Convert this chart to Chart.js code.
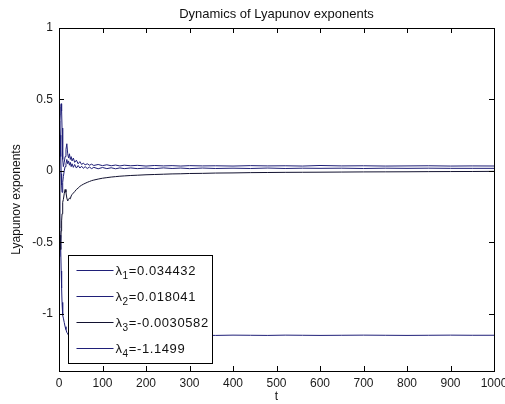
<!DOCTYPE html>
<html>
<head>
<meta charset="utf-8">
<script src="https://cdn.jsdelivr.net/npm/chart.js@4/dist/chart.umd.min.js"></script>
<style>
  html, body { margin: 0; padding: 0; background: #fff; }
  #wrap { position: relative; width: 505px; height: 404px; }
</style>
</head>
<body>
<div id="wrap"><canvas id="myChart"></canvas></div>
<script>
// time steps (denser at the start where the exponents move fast)
const t = [0, 1, 2, 3, 4, 5, 6, 7, 8, 9, 10,
    12, 14, 16, 18, 20, 22, 24, 26, 28, 30,
    33, 36, 40, 44, 48, 52, 56, 60, 65, 70, 75, 80,
    90, 100, 110, 120, 130, 140, 150, 165, 180,
    200, 220, 240, 260, 280, 300, 330, 360,
    400, 440, 480, 520, 560, 600,
    650, 700, 750, 800, 850, 900, 950, 1000];

const lambda1 = [0, 0.15, 0.3, 0.4, 0.45, 0.47, 0.42, 0.3, 0.18, 0.08, 0.03,
    0.06, 0.1, 0.15, 0.19, 0.12, 0.09, 0.12, 0.08, 0.1, 0.07,
    0.09, 0.06, 0.075, 0.05, 0.065, 0.045, 0.055, 0.042, 0.05, 0.04, 0.047, 0.038,
    0.045, 0.037, 0.043, 0.036, 0.041, 0.035, 0.04, 0.036, 0.039,
    0.034, 0.038, 0.035, 0.037, 0.034, 0.037, 0.035, 0.036,
    0.034, 0.037, 0.035, 0.036, 0.034, 0.038,
    0.035, 0.036, 0.034, 0.035, 0.036, 0.034, 0.035, 0.0344];

const lambda2 = [0, 0.2, 0.35, 0.25, 0.1, -0.02, -0.1, -0.15, -0.12, -0.08, -0.04,
    0, 0.03, 0.05, 0.08, 0.05, 0.07, 0.04, 0.06, 0.03, 0.05,
    0.025, 0.045, 0.02, 0.038, 0.02, 0.033, 0.018, 0.03, 0.017, 0.027, 0.016, 0.025,
    0.015, 0.024, 0.016, 0.022, 0.015, 0.021, 0.016, 0.021, 0.016,
    0.02, 0.016, 0.021, 0.017, 0.02, 0.016, 0.02, 0.017,
    0.019, 0.017, 0.02, 0.017, 0.019, 0.018,
    0.019, 0.017, 0.019, 0.018, 0.019, 0.018, 0.018, 0.018];

const lambda3 = [0, -0.2, -0.4, -0.55, -0.5, -0.42, -0.35, -0.3, -0.25, -0.22, -0.2,
    -0.16, -0.13, -0.15, -0.19, -0.21, -0.2, -0.19, -0.195, -0.175, -0.165,
    -0.155, -0.145, -0.13, -0.12, -0.108, -0.1, -0.093, -0.087, -0.08, -0.074, -0.068, -0.064,
    -0.057, -0.051, -0.047, -0.043, -0.04, -0.037, -0.035, -0.032, -0.03,
    -0.027, -0.025, -0.023, -0.021, -0.02, -0.018, -0.017, -0.015,
    -0.014, -0.012, -0.011, -0.01, -0.0095, -0.009,
    -0.008, -0.007, -0.0065, -0.006, -0.005, -0.0045, -0.004, -0.0031];

const lambda4 = [0, -0.35, -0.6, -0.45, -0.55, -0.7, -0.82, -0.92, -0.98, -1.01, -1.03,
    -1.06, -1.09, -1.11, -1.13, -1.14, -1.15, -1.155, -1.15, -1.155, -1.15,
    -1.152, -1.149, -1.153, -1.15, -1.152, -1.149, -1.151, -1.15, -1.152, -1.149, -1.151, -1.15,
    -1.151, -1.149, -1.151, -1.15, -1.151, -1.149, -1.15, -1.151, -1.149,
    -1.15, -1.151, -1.149, -1.15, -1.151, -1.149, -1.15, -1.151,
    -1.149, -1.15, -1.151, -1.149, -1.15, -1.151,
    -1.15, -1.149, -1.15, -1.151, -1.15, -1.149, -1.15, -1.1499];

const seriesNames = ['1', '2', '3', '4'];
const finalValues = ['0.034432', '0.018041', '-0.0030582', '-1.1499'];
const seriesColors = ['#1f1f78', '#1f1f78', '#121230', '#1f1f78'];

const xTicks = [0, 100, 200, 300, 400, 500, 600, 700, 800, 900, 1000];
const yTicks = [-1, -0.5, 0, 0.5, 1];

const chartTitle = 'Dynamics of Lyapunov exponents';

const FONT = '"Liberation Sans", Arial, Helvetica, sans-serif';

const allSeries = [lambda1, lambda2, lambda3, lambda4];

// axes box + inward tick marks + title centred on the axes, MATLAB style
const boxPlugin = {
    id: 'box',
    afterDraw(chart) {
        const { ctx, chartArea: a, scales } = chart;
        const len = 5;
        ctx.save();
        ctx.strokeStyle = '#000';
        ctx.lineWidth = 1;
        ctx.beginPath();
        xTicks.forEach(v => {
            const px = Math.round(scales.x.getPixelForValue(v)) + 0.5;
            ctx.moveTo(px, a.bottom); ctx.lineTo(px, a.bottom - len);
            ctx.moveTo(px, a.top); ctx.lineTo(px, a.top + len);
        });
        yTicks.forEach(v => {
            const py = Math.round(scales.y.getPixelForValue(v)) + 0.5;
            ctx.moveTo(a.left, py); ctx.lineTo(a.left + len, py);
            ctx.moveTo(a.right, py); ctx.lineTo(a.right - len, py);
        });
        ctx.stroke();
        ctx.strokeRect(Math.round(a.left) + 0.5, Math.round(a.top) + 0.5,
            Math.round(a.right - a.left), Math.round(a.bottom - a.top));

        ctx.fillStyle = '#111';
        ctx.font = '13px ' + FONT;
        ctx.textAlign = 'center';
        ctx.textBaseline = 'alphabetic';
        ctx.fillText(chartTitle, (a.left + a.right) / 2, a.top - 10);
        ctx.restore();
    }
};

// legend box in the lower left of the axes
const legendPlugin = {
    id: 'matLegend',
    afterDatasetsDraw(chart) {
        const { ctx, chartArea: a } = chart;
        const x0 = Math.round(a.left) + 9.5;
        const w = 144, h = 108;
        const y0 = Math.round(a.bottom) - 7.5 - h;
        ctx.save();
        ctx.fillStyle = '#fff';
        ctx.fillRect(x0, y0, w, h);
        ctx.strokeStyle = '#000';
        ctx.lineWidth = 1;
        ctx.strokeRect(x0, y0, w, h);
        chart.data.datasets.forEach((ds, i) => {
            const cy = Math.round(y0 + 14 + i * 26) + 0.5;
            ctx.strokeStyle = ds.borderColor;
            ctx.beginPath();
            ctx.moveTo(x0 + 8, cy);
            ctx.lineTo(x0 + 45, cy);
            ctx.stroke();
            ctx.fillStyle = '#111';
            ctx.textBaseline = 'alphabetic';
            ctx.letterSpacing = '0.6px';
            ctx.font = '13px ' + FONT;
            let tx = x0 + 47;
            ctx.fillText('\u03bb', tx, cy + 4);
            tx += ctx.measureText('\u03bb').width;
            ctx.font = '10px ' + FONT;
            ctx.fillText(seriesNames[i], tx, cy + 8);
            tx += ctx.measureText(seriesNames[i]).width;
            ctx.font = '13px ' + FONT;
            ctx.fillText('=' + finalValues[i], tx, cy + 4);
        });
        ctx.restore();
    }
};

const ctx = document.getElementById('myChart').getContext('2d');
const myChart = new Chart(ctx, {
    type: 'line',
    data: {
        datasets: allSeries.map((s, i) => ({
            label: '\u03bb' + seriesNames[i] + '=' + finalValues[i],
            data: t.map((x, k) => ({ x: x, y: s[k] })),
            borderColor: seriesColors[i],
            borderWidth: 1,
            pointRadius: 0,
            tension: 0,
            fill: false
        }))
    },
    options: {
        responsive: true,
        maintainAspectRatio: false,
        animation: false,
        layout: { padding: { left: 0, right: 11, top: 28, bottom: 0 } },
        plugins: {
            legend: { display: false },
            tooltip: { enabled: false },
            title: { display: false }
        },
        scales: {
            x: {
                type: 'linear',
                min: 0,
                max: 1000,
                afterBuildTicks: s => { s.ticks = xTicks.map(v => ({ value: v })); },
                afterFit: s => { s.height = 33; s.paddingLeft = 0; s.paddingRight = 0; },
                grid: { display: false, drawTicks: false },
                border: { display: false },
                ticks: {
                    autoSkip: false,
                    maxRotation: 0,
                    padding: 5,
                    color: '#1a1a1a',
                    font: { family: FONT, size: 12 },
                    callback: v => String(v)
                },
                title: {
                    display: true,
                    text: 't',
                    color: '#111',
                    font: { family: FONT, size: 12 },
                    padding: { top: 0, bottom: 0 }
                }
            },
            y: {
                type: 'linear',
                min: -1.4,
                max: 1,
                afterBuildTicks: s => { s.ticks = yTicks.map(v => ({ value: v })); },
                afterFit: s => { s.width = 59; s.paddingTop = 0; s.paddingBottom = 0; },
                grid: { display: false, drawTicks: false },
                border: { display: false },
                ticks: {
                    autoSkip: false,
                    padding: 6,
                    color: '#1a1a1a',
                    font: { family: FONT, size: 12 },
                    callback: v => String(v)
                },
                title: {
                    display: true,
                    text: 'Lyapunov exponents',
                    color: '#111',
                    font: { family: FONT, size: 12 },
                    padding: { top: 9, bottom: 0 }
                }
            }
        }
    },
    plugins: [legendPlugin, boxPlugin]
});
</script>
</body>
</html>
